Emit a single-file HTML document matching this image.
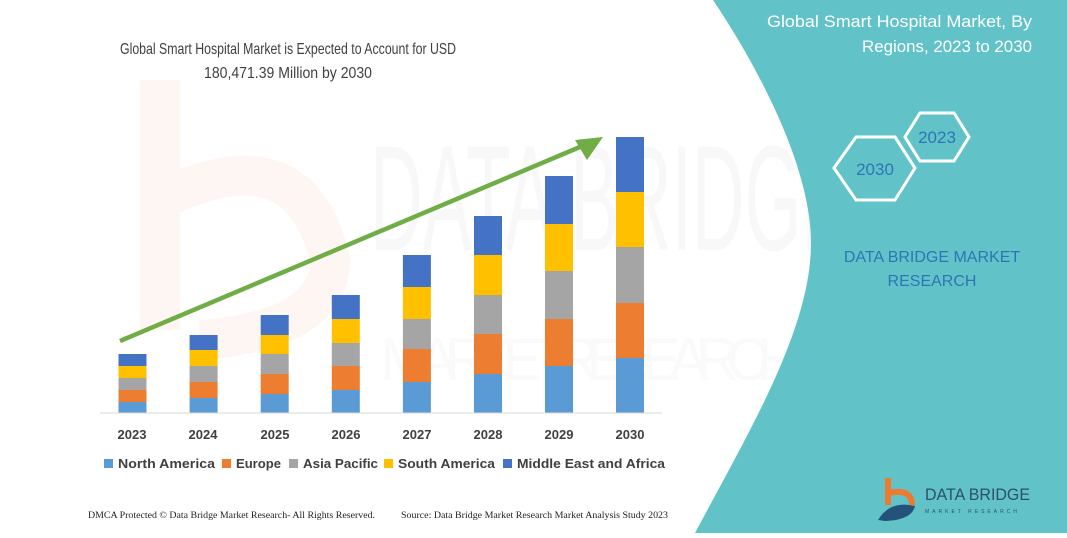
<!DOCTYPE html>
<html><head><style>
body{margin:0;width:1067px;height:533px;overflow:hidden;background:#fff;font-family:"Liberation Sans",sans-serif;}
</style></head><body>
<svg width="1067" height="533" viewBox="0 0 1067 533" xmlns="http://www.w3.org/2000/svg">
<!-- watermark -->
<text x="370" y="250" font-size="150" fill="#f8f8f8" font-family="Liberation Sans" textLength="480" lengthAdjust="spacingAndGlyphs">DATA BRIDGE</text>
<text x="380" y="380" font-size="60" fill="#fafafa" font-family="Liberation Sans" textLength="420" lengthAdjust="spacing">MARKET RESEARCH</text>
<path d="M160 80 L160 330 M160 200 Q300 130 330 260 Q330 330 200 340" stroke="#fef6f2" stroke-width="40" fill="none"/>
<!-- teal panel -->
<path d="M713 0 C760 70 812 170 811 245 C810 330 750 430 695 533 L1067 533 L1067 0 Z" fill="#61c3c8"/>
<text x="1032" y="27" font-size="17" fill="#fff" text-anchor="end" textLength="265" lengthAdjust="spacingAndGlyphs">Global Smart Hospital Market, By</text>
<text x="1032" y="52" font-size="17" fill="#fff" text-anchor="end" textLength="170" lengthAdjust="spacingAndGlyphs">Regions, 2023 to 2030</text>
<polygon points="920,113 954,113 969,137 954,161 920,161 905,137" fill="none" stroke="#fff" stroke-width="3"/>
<polygon points="856,137 895,137 915,168 895,200 856,200 834,168" fill="none" stroke="#fff" stroke-width="3"/>
<text x="937" y="143" font-size="17" fill="#2e75b6" text-anchor="middle">2023</text>
<text x="875" y="175" font-size="17" fill="#2e75b6" text-anchor="middle">2030</text>
<text x="932" y="262" font-size="16" fill="#2e75b6" text-anchor="middle">DATA BRIDGE MARKET</text>
<text x="932" y="286" font-size="16" fill="#2e75b6" text-anchor="middle">RESEARCH</text>
<!-- logo -->
<path d="M888 478 L888 505 M888 493 Q912 488 912 505" stroke="#ec7a2f" stroke-width="6" fill="none"/>
<path d="M878 520 Q890 500 915 506 Q912 520 885 521 Z" fill="#24527a"/>
<text x="925" y="500" font-size="17" fill="#2c4f6e" textLength="105" lengthAdjust="spacingAndGlyphs">DATA BRIDGE</text>
<text x="925" y="513" font-size="5" fill="#2c4f6e" letter-spacing="3">MARKET RESEARCH</text>
<!-- title -->
<text x="288" y="54" font-size="16" fill="#404040" text-anchor="middle" textLength="336" lengthAdjust="spacingAndGlyphs">Global Smart Hospital Market is Expected to Account for USD</text>
<text x="288" y="78" font-size="16" fill="#404040" text-anchor="middle" textLength="168" lengthAdjust="spacingAndGlyphs">180,471.39 Million by 2030</text>
<!-- bars -->
<g id="bars"></g>
<line x1="100" y1="413" x2="662" y2="413" stroke="#d9d9d9" stroke-width="1"/>
<!-- arrow -->
<line x1="120" y1="341" x2="587" y2="144" stroke="#70ad47" stroke-width="4.5"/>
<polygon points="603,137 575,140 587,160" fill="#70ad47"/>
<g font-size="13" font-weight="bold" fill="#404040" text-anchor="middle">
<text x="132" y="439">2023</text><text x="203" y="439">2024</text><text x="275" y="439">2025</text><text x="346" y="439">2026</text><text x="417" y="439">2027</text><text x="488" y="439">2028</text><text x="559" y="439">2029</text><text x="630" y="439">2030</text>
</g>
<g font-size="13" font-weight="bold" fill="#404040">
<rect x="104" y="459" width="9" height="9" fill="#5b9bd5"/><text x="118" y="468" textLength="97" lengthAdjust="spacingAndGlyphs">North America</text>
<rect x="222" y="459" width="9" height="9" fill="#ed7d31"/><text x="236" y="468" textLength="45" lengthAdjust="spacingAndGlyphs">Europe</text>
<rect x="289" y="459" width="9" height="9" fill="#a5a5a5"/><text x="303" y="468" textLength="75" lengthAdjust="spacingAndGlyphs">Asia Pacific</text>
<rect x="384" y="459" width="9" height="9" fill="#ffc000"/><text x="398" y="468" textLength="97" lengthAdjust="spacingAndGlyphs">South America</text>
<rect x="503" y="459" width="9" height="9" fill="#4472c4"/><text x="517" y="468" textLength="148" lengthAdjust="spacingAndGlyphs">Middle East and Africa</text>
</g>
<g font-size="9" fill="#222" font-family="Liberation Serif">
<text x="88" y="518" textLength="287" lengthAdjust="spacingAndGlyphs">DMCA Protected © Data Bridge Market Research- All Rights Reserved.</text>
<text x="401" y="518" textLength="267" lengthAdjust="spacingAndGlyphs">Source: Data Bridge Market Research Market Analysis Study 2023</text>
</g>
</svg>
<script>
var d=[[132.5,354,366,378,390,402],[203.6,335,350,366,382,398],[274.7,315,335,354,374,394],[345.8,295,319,343,366,390],[416.9,255,287,319,349,382],[488,216,255,295,334,374],[559,176,224,271,319,366],[630,137,192,247,303,358]];
var c=["#4472c4","#ffc000","#a5a5a5","#ed7d31","#5b9bd5"];
var g=document.getElementById("bars"),s="";
d.forEach(function(b){for(var i=0;i<5;i++){var y0=b[i+1],y1=(i<4?b[i+2]:413);s+='<rect x="'+(b[0]-14)+'" y="'+y0+'" width="28" height="'+(y1-y0)+'" fill="'+c[i]+'"/>';}});
g.innerHTML=s;
</script>
</body></html>
